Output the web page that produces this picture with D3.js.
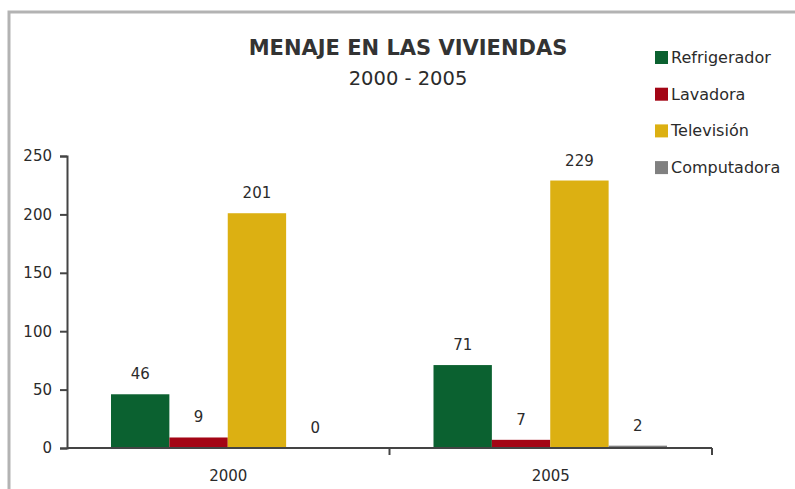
<!DOCTYPE html>
<html>
<head>
<meta charset="utf-8">
<script src="https://cdn.jsdelivr.net/npm/d3@7"></script>
<style>
  body { margin: 0; background: #fff; }
  svg text { font-family: "DejaVu Sans", sans-serif; fill: #2b2b2b; }
</style>
</head>
<body>
<div id="chart"></div>
<script>
var width = 795;
var height = 489;

// data
var years = ["2000", "2005"];
var series = ["Refrigerador", "Lavadora", "Televisión", "Computadora"];
var colors = ["#0b6130", "#a30515", "#dcb012", "#808080"];
var values2000 = [46, 9, 201, 0];
var values2005 = [71, 7, 229, 2];
var yTicks = [0, 50, 100, 150, 200, 250];

var rows = [values2000, values2005];

var svg = d3.select("#chart").append("svg")
    .attr("width", width)
    .attr("height", height);

// frame
svg.append("path")
    .attr("d", "M9,489 V12 H795")
    .attr("fill", "none")
    .attr("stroke", "#b3b3b3")
    .attr("stroke-width", 3);

var x0 = d3.scaleBand()
    .domain(years)
    .range([67, 712]);

var x1 = d3.scaleBand()
    .domain(series)
    .range([44, x0.bandwidth() - 45]);

var y = d3.scaleLinear()
    .domain([0, 250])
    .range([448, 156]);

// y axis
var yAxis = svg.append("g")
    .attr("transform", "translate(67,0)")
    .call(d3.axisLeft(y).tickValues(yTicks).tickSize(7).tickPadding(8));
yAxis.select(".domain").attr("stroke", "#444").attr("stroke-width", 2);
yAxis.selectAll(".tick line").attr("stroke", "#444").attr("stroke-width", 2);
yAxis.selectAll("text").attr("font-size", 15).style("fill", "#2b2b2b");

// bars
var groups = svg.selectAll(".year")
    .data(rows)
    .enter().append("g")
    .attr("class", "year")
    .attr("transform", (d, i) => "translate(" + x0(years[i]) + ",0)");

groups.selectAll("rect")
    .data(d => d.map((v, j) => ({ v: v, s: series[j], c: colors[j] })))
    .enter().append("rect")
    .attr("x", d => x1(d.s))
    .attr("width", x1.bandwidth())
    .attr("y", d => y(d.v))
    .attr("height", d => y(0) - y(d.v))
    .attr("fill", d => d.c);

groups.selectAll(".val")
    .data(d => d.map((v, j) => ({ v: v, s: series[j] })))
    .enter().append("text")
    .attr("class", "val")
    .attr("x", d => x1(d.s) + x1.bandwidth() / 2)
    .attr("y", d => y(d.v) - 15)
    .attr("text-anchor", "middle")
    .attr("font-size", 15)
    .text(d => d.v);

// x axis
var xAxis = svg.append("g")
    .attr("transform", "translate(0,448)");
xAxis.append("line")
    .attr("x1", 67).attr("x2", 712)
    .attr("stroke", "#444").attr("stroke-width", 2);
xAxis.selectAll(".sep")
    .data(years)
    .enter().append("line")
    .attr("class", "sep")
    .attr("x1", d => x0(d) + x0.bandwidth())
    .attr("x2", d => x0(d) + x0.bandwidth())
    .attr("y1", 0).attr("y2", 7)
    .attr("stroke", "#444").attr("stroke-width", 2);
xAxis.selectAll(".lab")
    .data(years)
    .enter().append("text")
    .attr("x", d => x0(d) + x0.bandwidth() / 2)
    .attr("y", 33)
    .attr("text-anchor", "middle")
    .attr("font-size", 15)
    .text(d => d);

// titles
svg.append("text")
    .attr("x", 408).attr("y", 55)
    .attr("text-anchor", "middle")
    .attr("font-size", 21)
    .attr("font-weight", "bold")
    .style("fill", "#333")
    .text("MENAJE EN LAS VIVIENDAS");
svg.append("text")
    .attr("x", 408).attr("y", 85)
    .attr("text-anchor", "middle")
    .attr("font-size", 19.5)
    .text("2000 - 2005");

// legend
var legend = svg.selectAll(".legend")
    .data(series)
    .enter().append("g")
    .attr("class", "legend")
    .attr("transform", (d, i) => "translate(655," + (51 + i * 36.7) + ")");
legend.append("rect")
    .attr("width", 13).attr("height", 13)
    .attr("fill", (d, i) => colors[i]);
legend.append("text")
    .attr("x", 16).attr("y", 12)
    .attr("font-size", 16)
    .text(d => d);
</script>
</body>
</html>
